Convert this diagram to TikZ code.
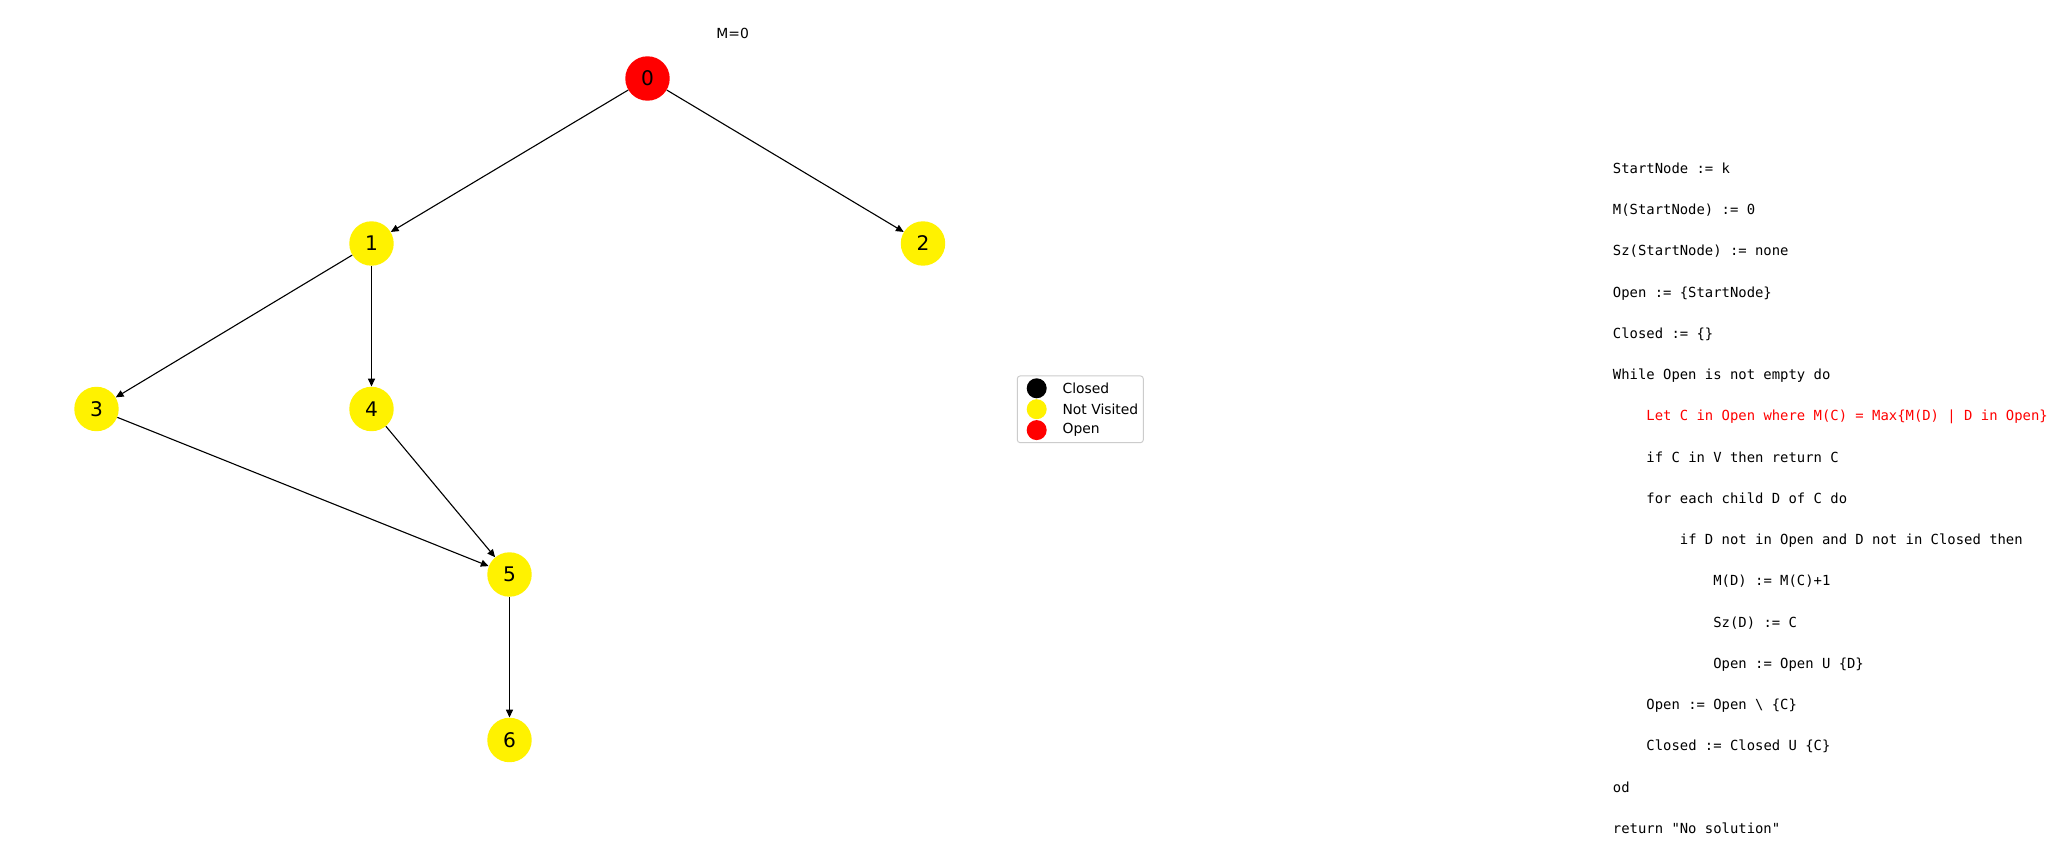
\documentclass[tikz,border=0pt]{standalone}
\usepackage{fontspec}
\setmainfont{DejaVu Sans}
\newfontfamily\monof{DejaVu Sans Mono}
\usetikzlibrary{arrows.meta}
\tikzset{
  gnode/.style={circle, inner sep=0pt, minimum size=32pt, font=\fontsize{14.5}{16}\selectfont},
  notvisited/.style={gnode, fill=yellow},
  opennode/.style={gnode, fill=red},
  edge/.style={draw=black, line width=0.8pt, -{Triangle[length=5.6pt,width=5pt]}},
  code/.style={anchor=base west, inner sep=0pt, font=\monof\fontsize{10}{12}\selectfont},
  legbox/.style={draw=black!20, fill=white, rounded corners=2pt, line width=0.7pt},
  legdot/.style={circle, inner sep=0pt, minimum size=14.4pt},
  leglabel/.style={anchor=west, inner sep=0pt, font=\fontsize{10}{12}\selectfont}
}
\begin{document}
\begin{tikzpicture}[x=0.72pt, y=-0.72pt]
\useasboundingbox (0,0) rectangle (2057,847);
\fill[white] (0,0) rectangle (2057,847);

% title
\node[font=\fontsize{10}{12}\selectfont] (title) at (732.7,33.3) {M=0};

% graph nodes
\node[opennode] (n0) at (647.5,78.5) {0};
\node[notvisited] (n1) at (371.5,243.5) {1};
\node[notvisited] (n2) at (923,243.5) {2};
\node[notvisited] (n3) at (96.5,409) {3};
\node[notvisited] (n4) at (371.5,409) {4};
\node[notvisited] (n5) at (509.5,574.5) {5};
\node[notvisited] (n6) at (509.5,740) {6};

\draw[edge] (n0) -- (n1);
\draw[edge] (n0) -- (n2);
\draw[edge] (n1) -- (n3);
\draw[edge] (n1) -- (n4);
\draw[edge] (n3) -- (n5);
\draw[edge] (n4) -- (n5);
\draw[edge] (n5) -- (n6);

% legend
\node[legbox, minimum width=90.7pt, minimum height=48pt, inner sep=0pt] (legend) at (1080.3,409.3) {};
\node[legdot, fill=black] (lc) at (1036.7,388.3) {};
\node[legdot, fill=yellow] (lnv) at (1036.7,409.2) {};
\node[legdot, fill=red] (lo) at (1036.7,430.1) {};
\node[leglabel] (lct) at (1062.3,388.3) {Closed};
\node[leglabel] (lnvt) at (1062.3,409.2) {Not Visited};
\node[leglabel] (lot) at (1062.3,430.1) {Open};

% pseudo code
\def\cx{1612.7}
\def\ci{33.45}
\node[code] (c1) at (\cx,173.3) {StartNode := k};
\node[code] (c2) at (\cx,214.55) {M(StartNode) := 0};
\node[code] (c3) at (\cx,255.8) {Sz(StartNode) := none};
\node[code] (c4) at (\cx,297.05) {Open := \{StartNode\}};
\node[code] (c5) at (\cx,338.3) {Closed := \{\}};
\node[code] (c6) at (\cx,379.55) {While Open is not empty do};
\node[code, text=red] (c7) at (\cx+\ci,420.8) {Let C in Open where M(C) = Max\{M(D) \textbar{} D in Open\}};
\node[code] (c8) at (\cx+\ci,462.05) {if C in V then return C};
\node[code] (c9) at (\cx+\ci,503.3) {for each child D of C do};
\node[code] (c10) at (\cx+2*\ci,544.55) {if D not in Open and D not in Closed then};
\node[code] (c11) at (\cx+3*\ci,585.8) {M(D) := M(C)+1};
\node[code] (c12) at (\cx+3*\ci,627.05) {Sz(D) := C};
\node[code] (c13) at (\cx+3*\ci,668.3) {Open := Open U \{D\}};
\node[code] (c14) at (\cx+\ci,709.55) {Open := Open \textbackslash{} \{C\}};
\node[code] (c15) at (\cx+\ci,750.8) {Closed := Closed U \{C\}};
\node[code] (c16) at (\cx,792.05) {od};
\node[code] (c17) at (\cx,833.3) {return "No solution"};
\end{tikzpicture}
\end{document}
